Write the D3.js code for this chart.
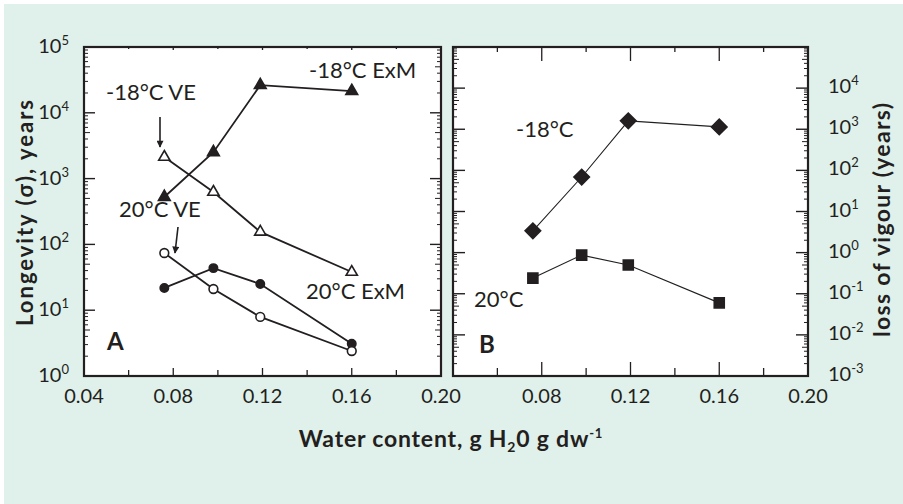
<!DOCTYPE html>
<html>
<head>
<meta charset="utf-8">
<script src="https://cdn.jsdelivr.net/npm/d3@7"></script>
<style>
  body { margin: 0; background: #fff; }
  text { font-family: Lato, "Open Sans", sans-serif; fill: #231f20; }
</style>
</head>
<body>
<svg id="chart" width="903" height="504"></svg>
<script>
// water content for every series (g H2O / g dw)
var water = [0.076, 0.098, 0.119, 0.16];

// panel A - longevity (sigma), years
var exm18 = [525, 2520, 26300, 21400];   // -18C ExM, filled triangles
var ve18  = [2130, 625, 155, 38];        // -18C VE, open triangles
var ve20  = [74, 21, 7.9, 2.4];          // 20C VE, open circles
var exm20 = [21.8, 43.6, 25, 3.1];       // 20C ExM, filled circles

// panel B - loss of vigour (years)
var vig18 = [3.4, 69, 1600, 1140];       // -18C, diamonds
var vig20 = [0.24, 0.87, 0.50, 0.060];   // 20C, squares

var xTicks = [0.04, 0.08, 0.12, 0.16, 0.20];
var xMinor = [0.06, 0.10, 0.14, 0.18];
var decA = [0, 1, 2, 3, 4, 5];
var decB = [-3, -2, -1, 0, 1, 2, 3, 4];

var ink = '#231f20';
var svg = d3.select('#chart');

svg.append('rect')
  .attr('x', 4).attr('y', 4).attr('width', 899).attr('height', 500)
  .attr('fill', '#e0f0ea');

var plotTop = 47, plotBottom = 376;
var xA = d3.scaleLinear().domain([0.04, 0.20]).range([84, 441]);
var xB = d3.scaleLinear().domain([0.04, 0.20]).range([453, 808]);
var yA = d3.scaleLog().domain([1, 1e5]).range([plotBottom, plotTop]);
var yB = d3.scaleLog().domain([1e-3, 1e5]).range([plotBottom, plotTop]);

function line(g, x1, y1, x2, y2, w) {
  g.append('line').attr('x1', x1).attr('y1', y1).attr('x2', x2).attr('y2', y2)
    .attr('stroke', ink).attr('stroke-width', w || 1.2);
}

function minorLen(v) {
  var m = Math.round(v / Math.pow(10, Math.floor(Math.log10(v) + 1e-9)));
  return m === 5 ? 6 : 4;
}

// frame + inward ticks for one panel
function frame(x, y, o) {
  var g = svg.append('g');
  var x0 = x.range()[0], x1 = x.range()[1];
  g.append('rect').attr('x', x0).attr('y', plotTop).attr('width', x1 - x0).attr('height', plotBottom - plotTop)
    .attr('fill', '#fff');
  y.ticks().forEach(function(v) {
    var major = Math.abs(Math.log10(v) - Math.round(Math.log10(v))) < 1e-6;
    var len = major ? o.yMajor : minorLen(v);
    line(g, x0, y(v), x0 + len, y(v), major ? 1.4 : 1);
    line(g, x1, y(v), x1 - len, y(v), major ? 1.4 : 1);
  });
  xTicks.concat(xMinor).forEach(function(v) {
    var major = xTicks.indexOf(v) >= 0;
    line(g, x(v), plotBottom, x(v), plotBottom - (major ? o.xMajor : o.xMinor), 1.3);
    line(g, x(v), plotTop, x(v), plotTop + (major ? o.tMajor : o.tMinor), 1.3);
  });
  g.append('rect').attr('x', x0).attr('y', plotTop).attr('width', x1 - x0).attr('height', plotBottom - plotTop)
    .attr('fill', 'none').attr('stroke', ink).attr('stroke-width', 2.2);
  return g;
}

frame(xA, yA, { yMajor: 11, xMajor: 8, xMinor: 6, tMajor: 3, tMinor: 2 });
frame(xB, yB, { yMajor: 12, xMajor: 14, xMinor: 8, tMajor: 14, tMinor: 5 });

// power-of-ten labels
function powLabel(x, y, e, anchor) {
  var t = svg.append('text').attr('x', x).attr('y', y).attr('text-anchor', anchor)
    .attr('font-size', 20);
  t.append('tspan').text('10');
  t.append('tspan').attr('font-size', 13).attr('dy', -8).text(e);
}
decA.forEach(function(e) { powLabel(69, yA(Math.pow(10, e)) + 6, String(e), 'end'); });
decB.forEach(function(e) { powLabel(828, yB(Math.pow(10, e)) + 5, e < 0 ? '-' + (-e) : String(e), 'start'); });

// x tick labels
xTicks.forEach(function(v) {
  svg.append('text').attr('x', xA(v)).attr('y', 403).attr('text-anchor', 'middle')
    .attr('font-size', 20).text(v.toFixed(2));
});
xTicks.slice(1).forEach(function(v) {
  svg.append('text').attr('x', xB(v)).attr('y', 403).attr('text-anchor', 'middle')
    .attr('font-size', 20).text(v.toFixed(2));
});

// series
function series(x, y, vals, shape, filled, size, w, rot) {
  var g = svg.append('g');
  var pts = water.map(function(d, i) { return [x(d), y(vals[i])]; });
  g.append('path').attr('d', d3.line()(pts)).attr('fill', 'none')
    .attr('stroke', ink).attr('stroke-width', w);
  var sym = d3.symbol().type(shape).size(size);
  g.selectAll('path.m').data(pts).enter().append('path')
    .attr('class', 'm')
    .attr('transform', function(p) {
      return 'translate(' + p[0] + ',' + p[1] + ')' + (rot ? ' rotate(45)' : '');
    })
    .attr('d', sym)
    .attr('fill', filled ? ink : '#fff')
    .attr('stroke', ink).attr('stroke-width', 1.6);
}

series(xA, yA, exm18, d3.symbolTriangle, true, 60, 1.8);
series(xA, yA, ve18, d3.symbolTriangle, false, 55, 1.8);
series(xA, yA, exm20, d3.symbolCircle, true, 55, 1.8);
series(xA, yA, ve20, d3.symbolCircle, false, 60, 1.8);
series(xB, yB, vig18, d3.symbolSquare, true, 120, 1.1, true);
series(xB, yB, vig20, d3.symbolSquare, true, 100, 1.1);

// annotations
function label(x, y, s, size, weight) {
  svg.append('text').attr('x', x).attr('y', y).attr('font-size', size || 22)
    .attr('font-weight', weight || 'normal').text(s);
}
label(309, 78, '-18°C ExM');
label(106, 100, '-18°C VE');
label(119, 217, '20°C VE');
label(306, 299, '20°C ExM');
label(107, 350, 'A', 24, 'bold');
label(516, 137, '-18°C');
label(474, 307, '20°C');
label(479, 353, 'B', 24, 'bold');

// arrows
svg.append('defs').append('marker').attr('id', 'ah')
  .attr('viewBox', '0 0 10 10').attr('refX', 9).attr('refY', 5)
  .attr('markerWidth', 11).attr('markerHeight', 7).attr('markerUnits', 'userSpaceOnUse')
  .attr('orient', 'auto')
  .append('path').attr('d', 'M0,0L10,5L0,10Z').attr('fill', ink);
svg.append('line').attr('x1', 160).attr('y1', 117).attr('x2', 160).attr('y2', 147)
  .attr('stroke', ink).attr('stroke-width', 1.6).attr('marker-end', 'url(#ah)');
svg.append('line').attr('x1', 178).attr('y1', 227).attr('x2', 175).attr('y2', 253)
  .attr('stroke', ink).attr('stroke-width', 1.6).attr('marker-end', 'url(#ah)');

// axis titles
var xt = svg.append('text').attr('x', 451).attr('y', 447).attr('text-anchor', 'middle')
  .attr('font-size', 23).attr('font-weight', 'bold').attr('letter-spacing', 0.8);
xt.append('tspan').text('Water content, g H');
xt.append('tspan').attr('font-size', 14).attr('dy', 5).text('2');
xt.append('tspan').attr('dy', -5).text('0  g dw');
xt.append('tspan').attr('font-size', 13).attr('dy', -9).text('-1');

svg.append('text').attr('transform', 'translate(33,213) rotate(-90)')
  .attr('text-anchor', 'middle').attr('font-size', 22).attr('font-weight', 'bold')
  .attr('textLength', 226).text('Longevity (σ), years');
svg.append('text').attr('transform', 'translate(890,220) rotate(-90)')
  .attr('text-anchor', 'middle').attr('font-size', 23).attr('font-weight', 'bold')
  .attr('textLength', 234).text('loss of vigour (years)');
</script>
</body>
</html>
